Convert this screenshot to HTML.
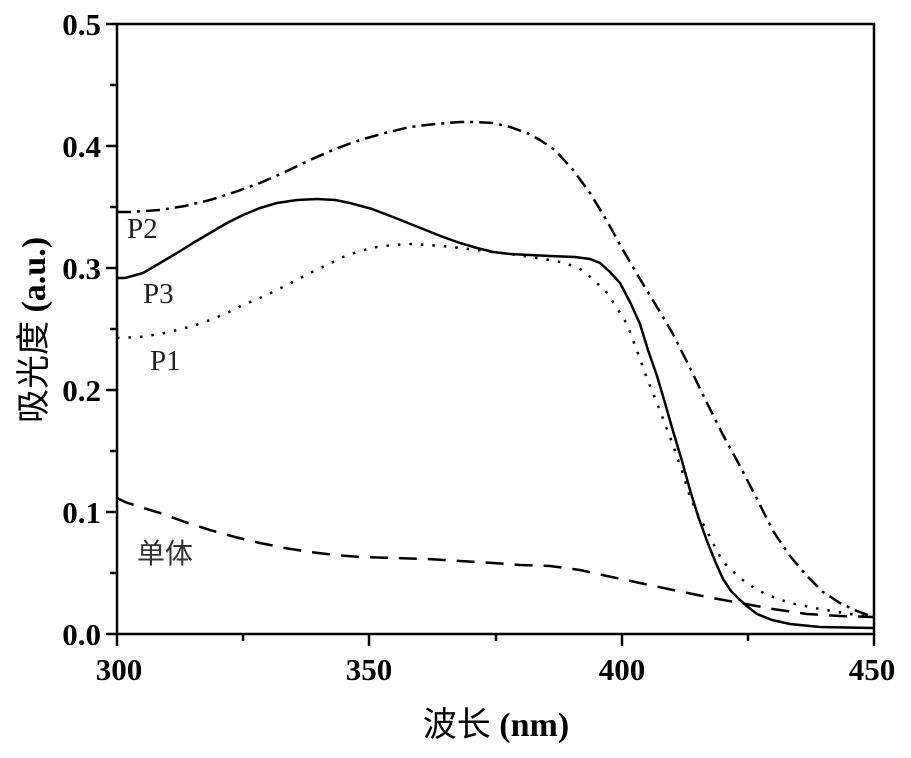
<!DOCTYPE html>
<html><head><meta charset="utf-8"><style>
body{margin:0;background:#fff;}
svg{display:block;}
.t{font-family:"Liberation Serif",serif;font-weight:bold;font-size:31px;fill:#000;}
.l{font-family:"Liberation Serif","Noto Serif CJK SC",serif;font-size:29px;fill:#222;}
</style></head><body>
<svg width="911" height="758" xmlns="http://www.w3.org/2000/svg">
<g stroke="#000" stroke-width="2.5" fill="none">
<rect x="117" y="24" width="757" height="610"/>
<path d="M106 24H117M106 146H117M106 268H117M106 390H117M106 512H117M106 634H117M110 85H117M110 207H117M110 329H117M110 451H117M110 573H117"/>
<path d="M117 634V646M369 634V646M622 634V646M874 634V646M243 634V641M496 634V641M748 634V641"/>
</g>
<g fill="none" stroke="#000" stroke-width="2.5" stroke-linejoin="round" stroke-linecap="butt">
<polyline stroke-dasharray="14,6,3,6" points="117,212 130,212 160,210 185,206 210,200 235,192 260,183 285,172 310,160 335,149 360,140 385,133 410,127 435,124 460,122 475,122 493,123 510,127 527,133 540,140 555,150 573,170 590,193 607,221 623,250 640,279 657,307 673,334 690,368 707,403 723,435 740,466 757,499 773,531 790,556 807,576 823,592 840,603 857,611 873,617"/>
<polyline points="117,278 125,278 143,273 160,263 177,253 193,243 210,233 227,223 243,215 260,208 277,203 297,200 317,199 335,200 350,203 372,209 393,217 418,227 443,237 460,243 477,248 493,252 510,254 530,255 550,256 575,257 590,259 600,263 610,272 620,283 630,302 640,324 648,350 657,376 665,403 673,431 682,461 690,490 698,516 707,541 715,561 723,579 731,591 740,600 748,607 757,614 772,620 790,624 820,627 873,628"/>
<polyline stroke-dasharray="2.5,9" points="117,338 140,337 160,334 177,330 193,326 210,320 227,313 243,305 260,298 277,290 293,282 310,273 327,265 343,257 360,251 377,247 393,245 410,244 427,245 443,246 460,248 477,250 493,252 510,254 530,257 550,260 565,263 580,269 593,279 607,293 617,308 627,324 633,340 640,359 648,381 657,403 665,424 673,445 682,471 690,497 698,515 707,531 715,547 723,562 740,578 757,590 773,597 790,603 820,609 850,614 873,617"/>
<polyline stroke-dasharray="18,11" points="117,498 125,502 140,507 160,513 185,522 210,530 235,537 260,543 285,548 310,552 335,555 360,557 393,558 427,559 460,561 493,563 520,565 550,566 580,570 607,576 640,583 673,590 707,597 740,603 773,609 807,614 840,616 873,617"/>
</g>
<g class="t" text-anchor="end">
<text x="101" y="35">0.5</text>
<text x="101" y="157">0.4</text>
<text x="101" y="279">0.3</text>
<text x="101" y="401">0.2</text>
<text x="101" y="523">0.1</text>
<text x="101" y="645">0.0</text>
</g>
<g class="t" text-anchor="middle">
<text x="119" y="680">300</text>
<text x="369" y="680">350</text>
<text x="622" y="680">400</text>
<text x="872" y="680">450</text>
</g>
<text class="l" x="127" y="238">P2</text>
<text class="l" x="143" y="303">P3</text>
<text class="l" x="150" y="370">P1</text>
<text x="137" y="563" style="font-family:'Noto Sans CJK SC',sans-serif;font-size:28px;fill:#333">单体</text>
<text x="496" y="736" text-anchor="middle" style="font-size:34px"><tspan style="font-family:'Noto Sans CJK SC',sans-serif">波长</tspan><tspan style="font-family:'Liberation Serif',serif;font-weight:bold"> (nm)</tspan></text>
<text transform="translate(45,330) rotate(-90)" text-anchor="middle" style="font-size:34px"><tspan style="font-family:'Noto Sans CJK SC',sans-serif">吸光度</tspan><tspan style="font-family:'Liberation Serif',serif;font-weight:bold"> (a.u.)</tspan></text>
</svg>
</body></html>
